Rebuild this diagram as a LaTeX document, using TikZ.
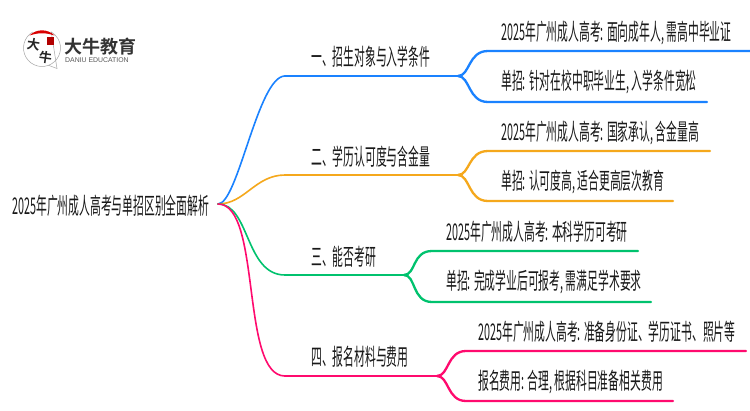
\documentclass[tikz,border=0pt]{standalone}
\usepackage{fontspec}
\setmainfont{Liberation Sans}
\newfontfamily\cjk[FakeStretch=0.47]{Noto Sans CJK SC}
\newfontfamily\cjklogo{Noto Sans CJK SC}[BoldFont={Noto Sans CJK SC Bold}]
\usetikzlibrary{positioning,calc}
\definecolor{brblue}{HTML}{1A82FF}
\definecolor{brorange}{HTML}{F5A81C}
\definecolor{brgreen}{HTML}{00C26E}
\definecolor{brpink}{HTML}{FF0A6E}
\tikzset{
    lbl/.style={font=\cjk\fontsize{23}{25}\selectfont, text=black!90, inner sep=0pt, anchor=west},
    logochar/.style={font=\cjklogo\bfseries\fontsize{13}{13}\selectfont, inner sep=0pt, text=black!85, rotate=-8},
    rootcurve/.style={line width=1.6pt, line cap=round},
    branch/.style={line width=2.3pt, line cap=round, line join=round}
}

\begin{document}
\begin{tikzpicture}[x=1pt,y=-1pt]
    \useasboundingbox (0,0) rectangle (750,410);
    \fill[white] (0,0) rectangle (750,410);

    % Logo
    \coordinate (logoc) at (42,48);
    \draw[black!35, line width=0.5pt] (logoc) ++(60:-18.5) arc (240:-60:18.5) -- (57,68.5) -- (49,65.5);
    \fill[red!85!black] (29.5,35.5) arc (225:315:17.7) to[bend right=18] cycle;
    \fill[red!70!black] (47,37) rectangle (54,45);
    \node[logochar] (logoda) at (33.5,44) {大};
    \node[logochar] (logoniu) at (45.5,58) {牛};
    \node[font=\cjklogo\bfseries\fontsize{18}{18}\selectfont, inner sep=0pt, anchor=west, text=black!80] (logoname) at (64,47) {大牛教育};
    \node[font=\fontsize{6.9}{7}\selectfont, inner sep=0pt, anchor=west, text=black!65] (logosub) at (65,60.5) {DANIU EDUCATION};

    % Root
    \node[lbl] (root) at (12,206) {2025年广州成人高考与单招区别全面解析};
    \coordinate (hub) at (218,204);

    % Branch one
    \node[lbl] (b1) at (311,57) {一、招生对象与入学条件};
    \coordinate (b1s) at (285,76);
    \coordinate (b1e) at (458,76);
    \draw[rootcurve, brblue] (hub) .. controls (238,204) and (258,76) .. (b1s);
    \draw[branch, brblue] (b1s) -- (b1e);
    \node[lbl] (l1a) at (501,33) {2025年广州成人高考: 面向成年人, 需高中毕业证};
    \node[lbl] (l1b) at (501,82) {单招: 针对在校中职毕业生, 入学条件宽松};
    \coordinate (l1ae) at (752,51);
    \coordinate (l1be) at (707,102);
    \draw[branch, brblue] (b1e) .. controls (470,76) and (468,51) .. (488,51) -- (l1ae);
    \draw[branch, brblue] (b1e) .. controls (470,76) and (468,102) .. (488,102) -- (l1be);

    % Branch two
    \node[lbl] (b2) at (311,157) {二、学历认可度与含金量};
    \coordinate (b2s) at (285,175);
    \coordinate (b2e) at (458,175);
    \draw[rootcurve, brorange] (hub) .. controls (245,204) and (255,175) .. (b2s);
    \draw[branch, brorange] (b2s) -- (b2e);
    \node[lbl] (l2a) at (501,133) {2025年广州成人高考: 国家承认, 含金量高};
    \node[lbl] (l2b) at (501,182) {单招: 认可度高, 适合更高层次教育};
    \coordinate (l2ae) at (710,151);
    \coordinate (l2be) at (673,201);
    \draw[branch, brorange] (b2e) .. controls (470,175) and (468,151) .. (488,151) -- (l2ae);
    \draw[branch, brorange] (b2e) .. controls (470,175) and (468,201) .. (488,201) -- (l2be);

    % Branch three
    \node[lbl] (b3) at (311,257) {三、能否考研};
    \coordinate (b3s) at (285,275);
    \coordinate (b3e) at (404,275);
    \draw[rootcurve, brgreen] (hub) .. controls (250,204) and (245,275) .. (b3s);
    \draw[branch, brgreen] (b3s) -- (b3e);
    \node[lbl] (l3a) at (446,232) {2025年广州成人高考: 本科学历可考研};
    \node[lbl] (l3b) at (446,282) {单招: 完成学业后可报考, 需满足学术要求};
    \coordinate (l3ae) at (638,251);
    \coordinate (l3be) at (651,302);
    \draw[branch, brgreen] (b3e) .. controls (416,275) and (412,251) .. (432,251) -- (l3ae);
    \draw[branch, brgreen] (b3e) .. controls (416,275) and (412,302) .. (432,302) -- (l3be);

    % Branch four
    \node[lbl] (b4) at (311,357) {四、报名材料与费用};
    \coordinate (b4s) at (285,376);
    \coordinate (b4e) at (437,376);
    \draw[rootcurve, brpink] (hub) .. controls (262,204) and (240,376) .. (b4s);
    \draw[branch, brpink] (b4s) -- (b4e);
    \node[lbl] (l4a) at (478,332) {2025年广州成人高考: 准备身份证、学历证书、照片等};
    \node[lbl] (l4b) at (478,382) {报名费用: 合理, 根据科目准备相关费用};
    \coordinate (l4ae) at (746,351);
    \coordinate (l4be) at (673,401);
    \draw[branch, brpink] (b4e) .. controls (449,376) and (447,351) .. (466,351) -- (l4ae);
    \draw[branch, brpink] (b4e) .. controls (449,376) and (447,401) .. (466,401) -- (l4be);
\end{tikzpicture}
\end{document}
